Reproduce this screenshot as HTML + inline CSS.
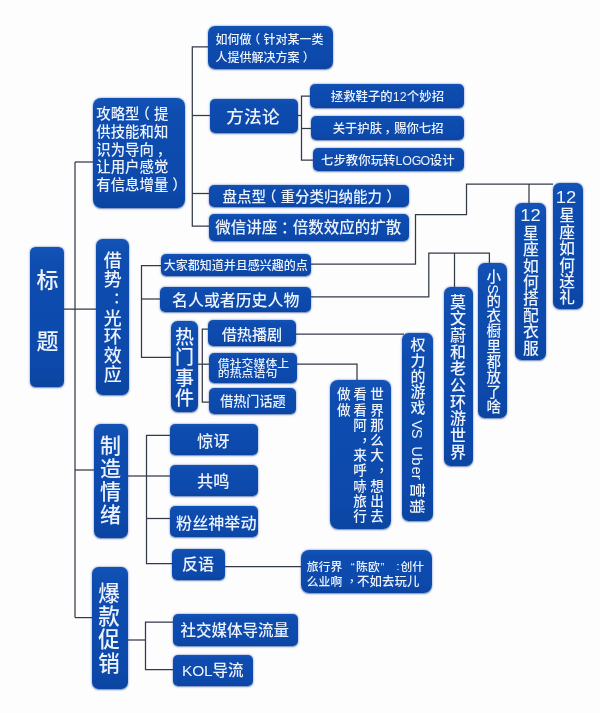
<!DOCTYPE html>
<html lang="zh-CN"><head><meta charset="utf-8">
<meta name="viewport" content="width=600">
<title>标题思维导图</title>
<style>
html,body{margin:0;padding:0;}
body{width:600px;height:713px;overflow:hidden;background:#fdfdfe;font-family:"Liberation Sans",sans-serif;}
#map{position:relative;width:600px;height:713px;overflow:hidden;background:#fdfdfe;filter:blur(.6px);}
.b{position:absolute;box-sizing:border-box;background:linear-gradient(#1453b6,#0e4cb0 14%,#0d49ab 82%,#0b45a2);border-radius:6px;box-shadow:0 .5px 1.5px rgba(16,56,140,.5),0 0 2.5px rgba(40,90,180,.4);}
.b span{position:absolute;left:0;top:0;width:1px;height:1px;overflow:hidden;clip:rect(0 0 0 0);clip-path:inset(50%);white-space:nowrap;font-size:1px;color:transparent;}
svg{position:absolute;left:0;top:0;}
#ln polyline{fill:none;stroke:#333a47;stroke-width:1.25;stroke-linejoin:miter;}
#tx{fill:#ecf2fc;}
#tx text{font-family:"Liberation Sans","Noto Sans CJK SC",sans-serif;font-weight:500;fill:#ecf2fc;}
</style></head><body>
<div id="map">
<svg id="ln" width="600" height="713" viewBox="0 0 600 713" aria-hidden="true">
<polyline points="75,162 75,617.6"/>
<polyline points="75,162 93,162"/>
<polyline points="64,309 97,309"/>
<polyline points="75,470 95,470"/>
<polyline points="75,617.6 92,617.6"/>
<polyline points="208,46.8 192.3,46.8 192.3,226 210,226"/>
<polyline points="192.3,115.5 211,115.5"/>
<polyline points="192.3,193.5 210,193.5"/>
<polyline points="297,115.5 301.5,115.5"/>
<polyline points="311,96 301.5,96 301.5,160 313,160"/>
<polyline points="301.5,128.5 312,128.5"/>
<polyline points="161,265.5 141.5,265.5 141.5,357.3 172,357.3"/>
<polyline points="141.5,299 161,299"/>
<polyline points="209,329.2 202.3,329.2 202.3,402.2 210,402.2"/>
<polyline points="197,364.2 210,364.2"/>
<polyline points="295.5,334 404,334"/>
<polyline points="296.5,364.2 357,364.2 357,380"/>
<polyline points="310.5,264 415.5,264 415.5,214.5 466.5,214.5 466.5,184 553,184"/>
<polyline points="529,184 529,204"/>
<polyline points="310.5,296.8 428.8,296.8 428.8,253 489.4,253 489.4,264"/>
<polyline points="454.5,253 454.5,288"/>
<polyline points="127,476 146.5,476"/>
<polyline points="171.5,435.4 146.5,435.4 146.5,563.5 173,563.5"/>
<polyline points="146.5,476 171.5,476"/>
<polyline points="146.5,518.5 171.5,518.5"/>
<polyline points="225,566.5 302,566.5"/>
<polyline points="127,640 145.5,640"/>
<polyline points="174,622 145.5,622 145.5,669.5 174,669.5"/>
</svg>
<div class="b" style="left:30.3px;top:246.5px;width:33.7px;height:140.8px;border-radius:5.5px"><span>标题</span></div>
<div class="b" style="left:92.5px;top:98px;width:92.5px;height:110px;border-radius:8px"><span>攻略型(提供技能和知识为导向,让用户感觉有信息增量)</span></div>
<div class="b" style="left:96px;top:239px;width:33.4px;height:156.2px;border-radius:6.5px"><span>借势:光环效应</span></div>
<div class="b" style="left:94px;top:423.5px;width:33.5px;height:114px;border-radius:6.5px"><span>制造情绪</span></div>
<div class="b" style="left:91.5px;top:566.5px;width:36px;height:122.5px;border-radius:6.5px"><span>爆款促销</span></div>
<div class="b" style="left:207.6px;top:26px;width:125.7px;height:43px;border-radius:7px"><span>如何做(针对某一类人提供解决方案)</span></div>
<div class="b" style="left:210px;top:98.5px;width:87.5px;height:34px;border-radius:5px"><span>方法论</span></div>
<div class="b" style="left:209px;top:184.5px;width:199.8px;height:22.2px;border-radius:5px"><span>盘点型(重分类归纳能力)</span></div>
<div class="b" style="left:209px;top:214.4px;width:199.8px;height:26.5px;border-radius:5px"><span>微信讲座:倍数效应的扩散</span></div>
<div class="b" style="left:310px;top:84px;width:154px;height:23.5px;border-radius:5px"><span>拯救鞋子的12个妙招</span></div>
<div class="b" style="left:310.5px;top:116.3px;width:153.5px;height:24px;border-radius:5px"><span>关于护肤,赐你七招</span></div>
<div class="b" style="left:312.5px;top:147.6px;width:151.5px;height:23.8px;border-radius:5px"><span>七步教你玩转LOGO设计</span></div>
<div class="b" style="left:160.5px;top:254.2px;width:150.5px;height:21.8px;border-radius:5px"><span>大家都知道并且感兴趣的点</span></div>
<div class="b" style="left:160px;top:286.5px;width:151px;height:25.5px;border-radius:5px"><span>名人或者历史人物</span></div>
<div class="b" style="left:171px;top:320.5px;width:26.7px;height:91.5px;border-radius:6.5px"><span>热门事件</span></div>
<div class="b" style="left:208px;top:320.2px;width:88px;height:26.2px;border-radius:5px"><span>借热播剧</span></div>
<div class="b" style="left:209px;top:353px;width:88px;height:29.7px;border-radius:5px"><span>借社交媒体上的热点语句</span></div>
<div class="b" style="left:209px;top:388.3px;width:86.5px;height:26px;border-radius:5px"><span>借热门话题</span></div>
<div class="b" style="left:170.3px;top:424.2px;width:87.7px;height:30.6px;border-radius:5px"><span>惊讶</span></div>
<div class="b" style="left:170.3px;top:465.1px;width:87.7px;height:30.5px;border-radius:5px"><span>共鸣</span></div>
<div class="b" style="left:170.3px;top:506.2px;width:87.7px;height:31.3px;border-radius:5px"><span>粉丝神举动</span></div>
<div class="b" style="left:172px;top:548.5px;width:53.3px;height:31px;border-radius:5px"><span>反语</span></div>
<div class="b" style="left:173px;top:613.8px;width:124.5px;height:32.2px;border-radius:5px"><span>社交媒体导流量</span></div>
<div class="b" style="left:173px;top:654.5px;width:80px;height:31.8px;border-radius:5px"><span>KOL导流</span></div>
<div class="b" style="left:301px;top:549.7px;width:130.5px;height:43.2px;border-radius:8px"><span>旅行界“陈欧”:创什么业啊,不如去玩儿</span></div>
<div class="b" style="left:330px;top:379.5px;width:60.5px;height:149.5px;border-radius:8px"><span>世界那么大,想出去看看阿,来呼哧旅行做做</span></div>
<div class="b" style="left:401.8px;top:333px;width:31.1px;height:187.7px;border-radius:6.5px"><span>权力的游戏 VS Uber营销</span></div>
<div class="b" style="left:444px;top:287px;width:28.5px;height:179px;border-radius:6.5px"><span>莫文蔚和老公环游世界</span></div>
<div class="b" style="left:478.4px;top:263px;width:28.4px;height:154.7px;border-radius:6.5px"><span>小S的衣橱里都放了啥</span></div>
<div class="b" style="left:515.3px;top:203.4px;width:30.7px;height:157.1px;border-radius:6.5px"><span>12星座如何搭配衣服</span></div>
<div class="b" style="left:552.5px;top:183px;width:30.3px;height:126.3px;border-radius:6.5px"><span>12星座如何送礼</span></div>
<svg id="tx" width="600" height="713" viewBox="0 0 600 713" aria-hidden="true">
<text font-size="22" x="36.5 36.5" y="288.36 348.86">标题</text>
<text font-size="14.4" y="119.27" x="96.3 110.7 125.1 135.47 153.9">攻略型（提</text>
<text font-size="14.4" y="136.92" x="96.3 110.7 125.1 139.5 153.9">供技能和知</text>
<text font-size="14.4" y="154.57" x="96.3 110.7 125.1 139.5 156.78">识为导向，</text>
<text font-size="14.4" y="172.22" x="96.3 110.7 125.1 139.5 153.9">让用户感觉</text>
<text font-size="14.4" y="189.87" x="96.3 110.7 125.1 139.5 153.9 172.33">有信息增量）</text>
<text font-size="18" x="103.8 103.8 103.8 103.8 103.8 103.8" y="266.84 286.04 324.54 343.44 362.44 381.34">借势光环效应</text>
<text font-size="15" x="113.05" y="303.29">：</text>
<text font-size="21" x="99.9 99.9 99.9 99.9" y="453.28 476.08 498.88 521.68">制造情绪</text>
<text font-size="21.5" x="98.25 98.25 98.25 98.25" y="600.97 624.17 647.37 670.57">爆款促销</text>
<text font-size="12" y="44.36" x="215.5 227.5 239.5 248.14 263.5 275.5 287.5 299.5 311.5">如何做（针对某一类</text>
<text font-size="12" y="61.56" x="215.5 227.5 239.5 251.5 263.5 275.5 287.5 302.86">人提供解决方案）</text>
<text font-size="17.6" y="122.99" x="226.2 244.1 262">方法论</text>
<text font-size="14.5" y="201.71" x="222.6 237.1 251.6 262.04 280.6 295.1 309.6 324.1 338.6 353.1 367.6 386.16">盘点型（重分类归纳能力）</text>
<text font-size="15.5" y="232.89" x="215.2 230.7 246.2 261.7 281.07 292.7 308.2 323.7 339.2 354.7 370.2 385.7">微信讲座：倍数效应的扩散</text>
<text font-size="12.4" y="100.71" x="330.73 343.13 355.53 367.93 380.33 392.73 399.8 406.87 419.27 431.67">拯救鞋子的12个妙招</text>
<text font-size="12.3" y="133.47" x="332.75 345.05 357.35 369.65 384.41 394.25 406.55 418.85 431.15">关于护肤，赐你七招</text>
<text font-size="12.4" y="164.51" x="321.04 333.44 345.84 358.24 370.64 383.04 395.44 402.36 411.71 420.41 429.76 442.16">七步教你玩转LOGO设计</text>
<text font-size="12" y="270.16" x="163.7 175.7 187.7 199.7 211.7 223.7 235.7 247.7 259.7 271.7 283.7 295.7">大家都知道并且感兴趣的点</text>
<text font-size="15.9" y="305.64" x="172.1 188 203.9 219.8 235.7 251.6 267.5 283.4">名人或者历史人物</text>
<text font-size="19" x="175.1 175.1 175.1 175.1" y="343.62 364.12 384.62 405.12">热门事件</text>
<text font-size="15.1" y="340.04" x="221.7 236.8 251.9 267">借热播剧</text>
<text font-size="11.9" transform="translate(217.8 366.68) scale(1 .88)" x="0 11.9 23.8 35.7 47.6 59.5" y="0">借社交媒体上</text>
<text font-size="11.9" transform="translate(217.8 377.18) scale(1 .88)" x="0 11.9 23.8 35.7 47.6" y="0">的热点语句</text>
<text font-size="13.1" y="406.48" x="220.15 233.25 246.35 259.45 272.55">借热门话题</text>
<text font-size="16.2" y="446.66" x="197.1 213.3">惊讶</text>
<text font-size="16.2" y="487.16" x="197.1 213.3">共鸣</text>
<text font-size="16.1" y="528.52" x="176.05 192.15 208.25 224.35 240.45">粉丝神举动</text>
<text font-size="16" y="569.78" x="182 198">反语</text>
<text font-size="15.5" y="636.09" x="180.55 196.05 211.55 227.05 242.55 258.05 273.55">社交媒体导流量</text>
<text font-size="15.5" y="676.39" x="181.99 192.28 203.97 212.61 228.11">KOL导流</text>
<text font-size="11.8" x="306.8 318.6 330.4 350.8 355.9 368 380.6 396.14 400.4 412.2" y="571.38 571.38 571.38 571.38 571.38 571.38 571.38 570.02 571.38 571.38">旅行界“陈欧”:创什</text>
<text font-size="11.8" y="585.68" x="306.8 318.6 330.4">么业啊</text>
<text font-size="11.8" x="348.73" y="581.9">，</text>
<text font-size="12.4" y="585.71" x="357 369.5 382 394.5 407">不如去玩儿</text>
<text font-size="13.6" x="370.2 370.2 370.2 370.2 370.2" y="399.37 414.57 429.77 444.97 460.17">世界那么大</text>
<text font-size="13.6" x="378.27" y="471">，</text>
<text font-size="13.6" x="370.2 370.2 370.2" y="490.57 505.77 520.97">想出去</text>
<text font-size="13.6" x="353.2 353.2 353.2" y="399.37 414.57 429.77">看看阿</text>
<text font-size="13.6" x="361.27" y="440.6">，</text>
<text font-size="13.6" x="353.2 353.2 353.2 353.2 353.2" y="460.17 475.37 490.57 505.77 520.97">来呼哧旅行</text>
<text font-size="13.6" x="337.1 337.1" y="399.37 414.57">做做</text>
<text font-size="15" x="410.5 410.5 410.5 410.5 410.5" y="350.2 365.9 381.6 397.3 413">权力的游戏</text>
<text font-size="14.8" transform="translate(418 420) rotate(90)" x="0 8.79" y="5.62">VS</text>
<text font-size="14.8" transform="translate(418 446.3) rotate(90)" x="0 10.85 20.16 28.53" y="5.62">Uber</text>
<text font-size="15" transform="translate(418 482.7) rotate(90)" x="0 16" y="5.7">营销</text>
<text font-size="16" x="450 450 450 450 450 450 450 450 450 450" y="307.68 324.35 341.02 357.69 374.36 391.03 407.7 424.37 441.04 457.71">莫文蔚和老公环游世界</text>
<text font-size="14.5" x="486.55" y="282.31">小</text>
<text font-size="14.5" transform="translate(493.8 284.35) rotate(90)" x="0" y="5.51">S</text>
<text font-size="14.5" x="486.55 486.55 486.55 486.55 486.55 486.55 486.55 486.55" y="306.23 321.33 336.43 351.53 366.63 381.73 396.83 411.93">的衣橱里都放了啥</text>
<text font-size="18.4" style="font-weight:400" transform="translate(520.29 220.84) scale(1 .935)" x="0 10.21" y="0">12</text>
<text font-size="18.4" style="font-weight:400" transform="translate(555.69 203.14) scale(1 .935)" x="0 10.21" y="0">12</text>
<text font-size="15.8" x="522.9 522.9 522.9 522.9 522.9 522.9 522.9 522.9" y="238.7 255.1 271.5 287.9 304.3 320.7 337.1 353.5">星座如何搭配衣服</text>
<text font-size="15.7" x="559.25 559.25 559.25 559.25 559.25 559.25" y="221.37 237.77 254.17 270.57 286.97 303.37">星座如何送礼</text>
</svg>
</div></body></html>
